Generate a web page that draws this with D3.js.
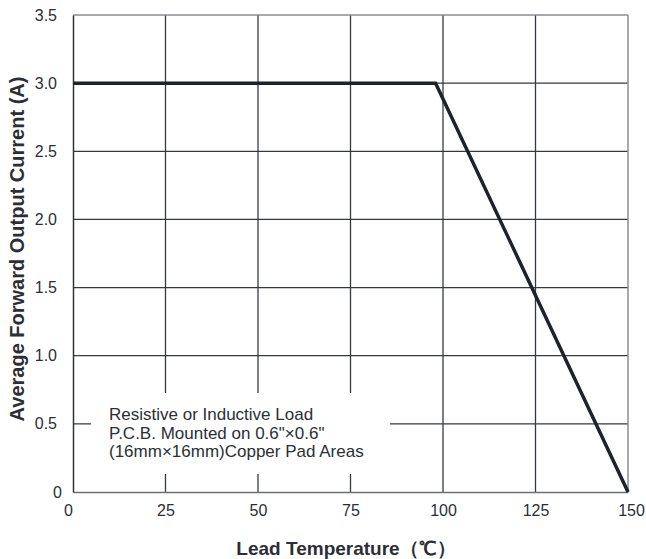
<!DOCTYPE html>
<html>
<head>
<meta charset="utf-8">
<script src="https://cdn.jsdelivr.net/npm/d3@7"></script>
<style>
  body { margin: 0; background: #fff; }
  text { font-family: "Liberation Sans", Arial, sans-serif; fill: #2b2f35; }
</style>
</head>
<body>
<div id="chart"></div>
<script>
// Chart values
var xTicks = [0, 25, 50, 75, 100, 125, 150];
var yTicks = [0, 0.5, 1.0, 1.5, 2.0, 2.5, 3.0, 3.5];
var leadTemp = [0, 98, 150];
var outputCurrent = [3.0, 3.0, 0];
var noteLines = [
  "Resistive or Inductive Load",
  "P.C.B. Mounted on 0.6\"\u00d70.6\"",
  "(16mm\u00d716mm)Copper Pad Areas"
];

var width = 646;
var height = 559;
// plot edges ("top" is taken on window, so use plot* names)
var plotLeft = 73, plotRight = 628, plotTop = 15, plotBottom = 492;

var svg = d3.select("#chart")
  .append("svg")
  .attr("width", width)
  .attr("height", height);

var x = d3.scaleLinear().domain([0, 150]).range([plotLeft, plotRight]);
var y = d3.scaleLinear().domain([0, 3.5]).range([plotBottom, plotTop]);

// grid
var grid = svg.append("g");
grid.selectAll("line.v")
  .data(xTicks.slice(1, -1))
  .enter().append("line")
  .attr("x1", function(d) { return x(d); })
  .attr("x2", function(d) { return x(d); })
  .attr("y1", plotTop).attr("y2", plotBottom)
  .attr("stroke", "#353a41")
  .attr("stroke-width", 1.3);

grid.selectAll("line.h")
  .data(yTicks.slice(1, -1))
  .enter().append("line")
  .attr("x1", plotLeft).attr("x2", plotRight)
  .attr("y1", function(d) { return y(d); })
  .attr("y2", function(d) { return y(d); })
  .attr("stroke", "#353a41")
  .attr("stroke-width", 1.3);

// top and right borders are lighter
svg.append("line")
  .attr("x1", plotLeft).attr("x2", plotRight)
  .attr("y1", y(3.5)).attr("y2", y(3.5))
  .attr("stroke", "#8a8d92").attr("stroke-width", 1.5);
svg.append("line")
  .attr("x1", x(150)).attr("x2", x(150))
  .attr("y1", plotTop).attr("y2", plotBottom)
  .attr("stroke", "#8a8d92").attr("stroke-width", 1.5);

// white note box covering the grid
svg.append("rect")
  .attr("x", 91).attr("y", 393)
  .attr("width", 299).attr("height", 81)
  .attr("fill", "#fff");

// axes
var xAxis = d3.axisBottom(x).tickValues(xTicks).tickSize(0).tickPadding(13)
  .tickFormat(function(d) { return d; });
var yAxis = d3.axisLeft(y).tickValues(yTicks).tickSize(0).tickPadding(16)
  .tickFormat(function(d) { return d === 0 ? "0" : d3.format(".1f")(d); });

var gx = svg.append("g")
  .attr("transform", "translate(0," + plotBottom + ")")
  .call(xAxis);
gx.select(".domain").attr("stroke", "#6c7075").attr("stroke-width", 1.5);
gx.selectAll("text")
  .attr("font-size", 16)
  .attr("fill", "#2b2f35")
  .attr("dx", function(d) { return d === 0 ? -5 : (d === 150 ? 3 : 0); });

var gy = svg.append("g")
  .attr("transform", "translate(" + plotLeft + ",0)")
  .call(yAxis);
gy.select(".domain").attr("stroke", "#2f343a").attr("stroke-width", 1.5);
gy.selectAll("text")
  .attr("font-size", 16)
  .attr("fill", "#2b2f35")
  .attr("dx", function(d) { return d === 0 ? 5 : 0; });

// derating curve
var line = d3.line()
  .x(function(d, i) { return x(leadTemp[i]); })
  .y(function(d) { return y(d); });

svg.append("path")
  .datum(outputCurrent)
  .attr("d", line)
  .attr("fill", "none")
  .attr("stroke", "#1e232a")
  .attr("stroke-width", 3.5)
  .attr("stroke-linejoin", "miter");

// note text
svg.append("g").selectAll("text")
  .data(noteLines)
  .enter().append("text")
  .attr("x", 109)
  .attr("y", function(d, i) { return 420 + i * 18.5; })
  .attr("font-size", 17)
  .text(function(d) { return d; });

// axis titles
svg.append("text")
  .attr("x", 346)
  .attr("y", 555)
  .attr("text-anchor", "middle")
  .attr("font-size", 19)
  .attr("font-weight", "bold")
  .text("Lead Temperature\uff08\u2103\uff09");

svg.append("text")
  .attr("transform", "translate(24,249)rotate(-90)")
  .attr("text-anchor", "middle")
  .attr("font-size", 20)
  .attr("font-weight", "bold")
  .text("Average Forward Output Current (A)");
</script>
</body>
</html>
